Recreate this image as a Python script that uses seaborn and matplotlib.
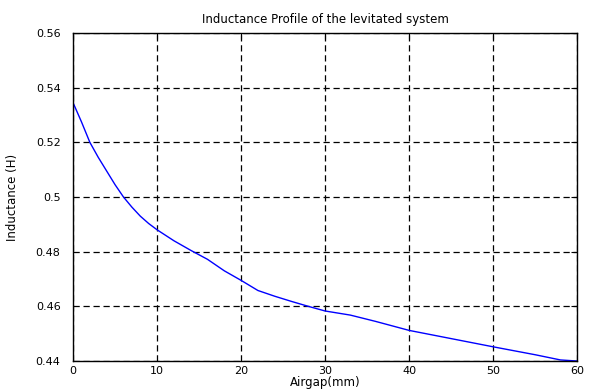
import matplotlib
matplotlib.use("Agg")
import matplotlib.pyplot as plt
import seaborn as sns
import pandas as pd

airgap_mm = [0, 1, 2, 3, 4, 5, 6, 7, 8, 9, 10, 12, 14, 16, 18, 20, 22, 24, 26, 28, 30,
             33, 36, 40, 45, 50, 55, 58, 60]
inductance_h = [0.5345, 0.5275, 0.5200, 0.5145, 0.5095, 0.5045, 0.5000, 0.4963, 0.4930, 0.4903,
                0.4880, 0.4840, 0.4805, 0.4772, 0.4730, 0.4695, 0.4658, 0.4637, 0.4618, 0.4600,
                0.4583, 0.4568, 0.4545, 0.4512, 0.4482, 0.4452, 0.4423, 0.4404, 0.4400]
x_ticks = [0, 10, 20, 30, 40, 50, 60]
y_ticks = [0.44, 0.46, 0.48, 0.50, 0.52, 0.54, 0.56]
y_tick_labels = ["0.44", "0.46", "0.48", "0.5", "0.52", "0.54", "0.56"]

df = pd.DataFrame({"Airgap": airgap_mm, "Inductance": inductance_h})

sns.set_style("white")
plt.rcParams['font.family'] = ['DejaVu Sans']
plt.rcParams['text.color'] = 'black'
plt.rcParams['axes.labelcolor'] = 'black'
plt.rcParams['xtick.color'] = 'black'
plt.rcParams['ytick.color'] = 'black'

fig = plt.figure(figsize=(5.89, 3.92), dpi=100)
ax = fig.add_axes([0.124, 0.079, 0.856, 0.837])
sns.lineplot(data=df, x="Airgap", y="Inductance", ax=ax, color="#0000ff", linewidth=1.0)

ax.set_xlim(0, 60)
ax.set_ylim(0.44, 0.56)
ax.set_xticks(x_ticks)
ax.set_xticklabels([str(t) for t in x_ticks], fontsize=8)
ax.set_yticks(y_ticks)
ax.set_yticklabels(y_tick_labels, fontsize=8)
ax.tick_params(axis="y", pad=9)
ax.tick_params(direction="in", length=4, width=0.8, colors="black", top=True, right=True)
ax.grid(True, color="black", linestyle=(0, (5, 3)), linewidth=0.9)
for s in ax.spines.values():
    s.set_color("black")
    s.set_linewidth(1.0)

ax.set_title("Inductance Profile of the levitated system", fontsize=8.5, pad=7, color="black")
ax.set_xlabel("Airgap(mm)", fontsize=8.5, labelpad=0, color="black")
ax.set_ylabel("Inductance (H)", fontsize=8.5, labelpad=12, color="black")

fig.savefig("out.png", dpi=100)
